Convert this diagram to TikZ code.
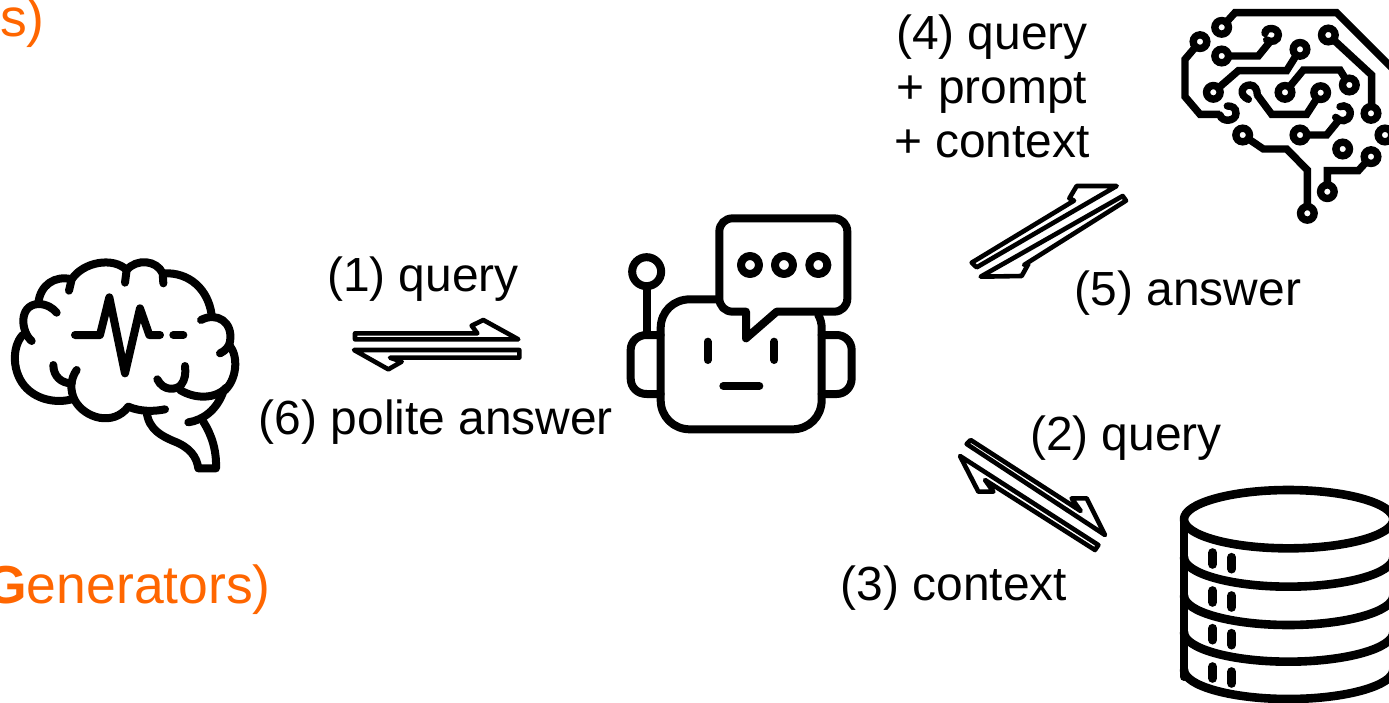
\documentclass[tikz,border=0pt]{standalone}
\usepackage{fontspec}
\setmainfont{Liberation Sans}
\definecolor{accent}{HTML}{FF6600}
\tikzset{
  lab/.style={font=\fontsize{47.9pt}{54pt}\selectfont,inner sep=0pt,anchor=base,align=center},
  orange/.style={font=\fontsize{53.5pt}{60pt}\selectfont,inner sep=0pt,anchor=base east,text=accent},
  ico/.style={draw=black,line width=8pt,line cap=round,line join=round},
  arr/.style={draw=black,line width=4.6pt,line join=round},
  chip/.style={draw=black,line width=7.4pt,line cap=butt,line join=miter},
  db/.style={draw=black,line width=8.6pt,line cap=round,line join=round},
  pill/.style={draw=black,line width=9pt,line cap=round},
  zoomed/.style={x=0.33333pt,y=-0.33333pt}
}
\newcommand{\chippad}[2]{\draw[chip,fill=white] (#1,#2) circle[radius=6.8pt];}
\begin{document}
\begin{tikzpicture}[x=1pt,y=-1pt]
\useasboundingbox (0,0) rectangle (1389,702);
\clip (0,0) rectangle (1389,702);
\node[orange] (t1) at (45,36) {s)};
\node[orange] (t2) at (271,603) {\textbf{G}enerators)};
\node[lab] (l1) at (423,291) {(1) query};
\node[lab] (l6) at (436,434) {(6) polite answer};
\node[lab] (l4) at (992,49) {(4) query};
\node[lab] (l4b) at (992,103) {+ prompt};
\node[lab] (l4c) at (992,157) {+ context};
\node[lab] (l5) at (1188,305) {(5) answer};
\node[lab] (l2) at (1126,450) {(2) query};
\node[lab] (l3) at (954,600) {(3) context};
% human brain
\begin{scope}[shift={(0pt,-240pt)},zoomed]
\draw[ico] (95,303) .. controls (62,275) and (55,195) .. (115,192) .. controls (140,192) and (160,205) .. (170,218);
\draw[ico] (68,285) .. controls (35,320) and (35,400) .. (80,445) .. controls (115,480) and (170,490) .. (215,478);
\draw[ico] (115,190) .. controls (120,135) and (165,105) .. (215,118);
\draw[ico] (207,152) -- (215,118) .. controls (250,65) and (340,50) .. (380,90);
\draw[ico] (375,128) -- (380,90) .. controls (410,55) and (470,60) .. (488,100) -- (490,130);
\draw[ico] (488,100) .. controls (570,95) and (625,150) .. (635,225);
\draw[ico] (603,240) .. controls (650,215) and (700,245) .. (690,305) .. controls (688,320) and (675,333) .. (660,340);
\draw[ico] (690,318) .. controls (715,350) and (712,420) .. (670,455) .. controls (650,510) and (610,540) .. (565,547);
\draw[ico] (540,450) .. controls (590,480) and (650,475) .. (680,442);
\draw[ico] (472,418) .. controls (490,455) and (530,450) .. (543,435) .. controls (555,420) and (558,400) .. (555,378);
\draw[ico] (160,375) .. controls (160,410) and (185,430) .. (215,430);
\draw[ico] (230,390) .. controls (212,415) and (208,450) .. (225,482) .. controls (255,535) and (340,560) .. (385,500) .. controls (420,515) and (460,515) .. (495,508);
\draw[ico] (440,515) .. controls (445,570) and (490,590) .. (520,603) .. controls (570,622) and (590,650) .. (595,685) -- (648,685) .. controls (650,630) and (635,585) .. (610,545);
\draw[ico] (225,285) -- (300,285) -- (328,172) -- (375,400) -- (420,205) -- (448,285) -- (480,285);
\draw[ico] (520,285) -- (550,285);
\end{scope}
% robot
\begin{scope}[shift={(610pt,-200pt)},zoomed]
\draw[ico] (325,298) -- (240,298) .. controls (190,298) and (152,335) .. (152,385) -- (152,600) .. controls (152,650) and (190,688) .. (240,688) -- (547,688) .. controls (597,688) and (635,650) .. (635,600) -- (635,385) .. controls (635,370) and (632,358) .. (625,345);
\draw[ico] (368,55) -- (672,55) .. controls (695,55) and (712,72) .. (712,95) -- (712,295) .. controls (712,318) and (695,335) .. (672,335) -- (500,335) -- (408,415) -- (408,335) -- (368,335) .. controls (345,335) and (328,318) .. (328,295) -- (328,95) .. controls (328,72) and (345,55) .. (368,55) -- cycle;
\draw[ico] (152,405) -- (110,405) .. controls (82,405) and (62,425) .. (62,450) -- (62,535) .. controls (62,562) and (82,582) .. (110,582) -- (152,582);
\draw[ico] (635,405) -- (680,405) .. controls (705,405) and (725,425) .. (725,450) -- (725,535) .. controls (725,562) and (705,582) .. (680,582) -- (635,582);
\draw[ico] (110,215) circle[radius=14.5pt];
\draw[ico] (110,258) -- (110,400);
\draw[ico] (293,425) -- (293,480);
\draw[ico] (493,425) -- (493,480);
\draw[ico] (340,558) -- (448,558);
\draw[ico] (420,195) circle[radius=9pt];
\draw[ico] (522,195) circle[radius=9pt];
\draw[ico] (625,195) circle[radius=9pt];
\end{scope}
% circuit brain
\begin{scope}[shift={(1170pt,0pt)},zoomed]
\draw[chip] (155,82) -- (195,38) -- (500,38) -- (670,208);
\draw[chip] (90,125) -- (45,178) -- (45,290) -- (90,343) -- (150,343);
\draw[chip,line cap=round] (150,345) .. controls (155,368) and (198,365) .. (198,340) .. controls (198,322) and (185,318) .. (172,318);
\draw[chip] (155,168) -- (265,168) -- (300,125);
\draw[chip,line cap=round] (285,100) .. controls (285,80) and (325,80) .. (325,105) .. controls (325,122) and (305,130) .. (290,120);
\draw[chip] (390,148) -- (350,212) -- (205,212) -- (130,277);
\draw[chip,line cap=round] (235,298) .. controls (205,285) and (215,255) .. (240,255) .. controls (255,255) and (262,270) .. (262,285);
\draw[chip] (262,285) -- (305,343) -- (410,343) -- (452,278);
\draw[chip] (345,277) -- (400,210) -- (510,210) -- (538,255);
\draw[chip] (475,105) -- (605,225) -- (605,340);
\draw[chip,line cap=round] (510,320) .. controls (525,312) and (545,325) .. (540,345) .. controls (535,365) and (510,368) .. (497,352);
\draw[chip] (505,362) -- (470,405) -- (390,405);
\draw[chip] (218,405) -- (280,447) -- (350,447) -- (412,510) -- (412,640);
\draw[chip] (603,470) -- (565,512) -- (472,512) -- (472,575);
\foreach \px/\py in {155/82,90/125,155/168,390/148,130/277,452/278,345/277,538/255,475/105,603/340,390/405,218/405,412/640,518/447,645/405,603/470,472/575}
  \chippad{\px}{\py};
\end{scope}
% database
\begin{scope}[shift={(1170pt,-480pt)},zoomed]
\draw[db] (42,118) .. controls (42,70) and (183,30) .. (355,30) .. controls (527,30) and (670,70) .. (670,118) .. controls (670,166) and (527,205) .. (355,205) .. controls (183,205) and (42,166) .. (42,118) -- cycle;
\draw[db] (42,118) -- (42,590);
\foreach \yb in {320,435,545,657}
  \draw[db] (42,{\yb-88}) .. controls (42,{\yb-40}) and (183,\yb) .. (355,\yb) .. controls (527,\yb) and (670,{\yb-40}) .. (670,{\yb-88});
\foreach \ya/\yc in {218/232,332/347,445/460,560/575}{
  \draw[pill] (128,\ya) -- (128,{\ya+35});
  \draw[pill] (185,\yc) -- (185,{\yc+35});
}
\end{scope}
% arrows (1)/(6)
\begin{scope}[shift={(340pt,-310pt)},zoomed]
\draw[arr] (45,70) -- (412,70) -- (395,47) -- (430,30) -- (535,88) -- (45,88) -- cycle;
\draw[arr] (42,120) -- (538,120) -- (538,143) -- (150,143) -- (185,155) -- (145,178) -- cycle;
\end{scope}
% arrows (4)/(5)
\begin{scope}[shift={(950pt,-170pt)},zoomed]
\draw[arr] (65,278) -- (372,92) -- (358,85) -- (380,48) -- (500,48) -- (80,292) -- cycle;
\draw[arr] (518,78) -- (528,92) -- (222,285) -- (235,282) -- (215,318) -- (92,320) -- cycle;
\end{scope}
% arrows (2)/(3)
\begin{scope}[shift={(950pt,-430pt)},zoomed]
\draw[arr] (50,42) -- (62,30) -- (392,243) -- (365,205) -- (410,205) -- (465,315) -- cycle;
\draw[arr] (30,78) -- (445,345) -- (435,360) -- (105,150) -- (130,185) -- (85,185) -- cycle;
\end{scope}
\end{tikzpicture}
\end{document}
